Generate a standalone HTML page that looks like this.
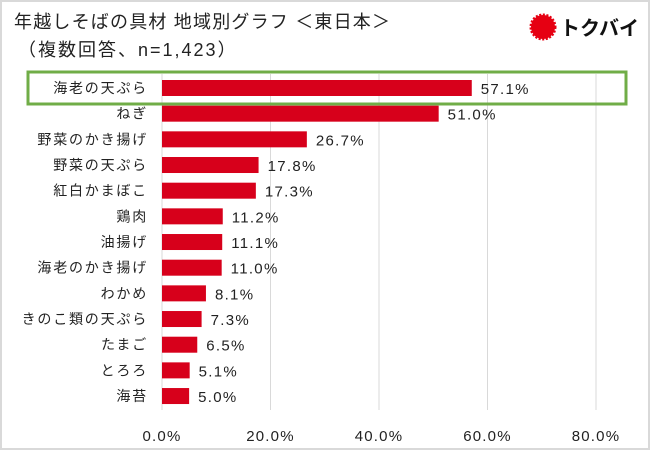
<!DOCTYPE html>
<html><head><meta charset="utf-8"><style>
html,body{margin:0;padding:0;background:#fff}
body{width:650px;height:450px;overflow:hidden;position:relative;font-family:"Liberation Sans","Noto Sans CJK JP",sans-serif}
</style></head><body>
<svg width="650" height="450" viewBox="0 0 650 450" style="position:absolute;left:0;top:0">
<rect x="1" y="1" width="648" height="448" fill="#fff" stroke="#d9d9d9" stroke-width="2"/>
<text x="14" y="28" font-size="18" letter-spacing="1.2" fill="#222">年越しそばの具材 地域別グラフ ＜東日本＞</text>
<text x="18" y="56" font-size="18" letter-spacing="2" fill="#222">（複数回答、n=1,423）</text>
<g>
<circle cx="543" cy="27" r="12" fill="#e60012" stroke="#e60012" stroke-width="3" stroke-dasharray="2 1.5"/>
<text x="560" y="35" font-size="20" font-weight="bold" fill="#111">トクバイ</text>
</g>
<g id="grid"></g>
<rect x="28" y="72" width="598" height="32" fill="none" stroke="#70ad47" stroke-width="3"/>
<g id="bars"></g>
<g id="xlabels"></g>
</svg>
<script>
const categories=["海老の天ぷら","ねぎ","野菜のかき揚げ","野菜の天ぷら","紅白かまぼこ","鶏肉","油揚げ","海老のかき揚げ","わかめ","きのこ類の天ぷら","たまご","とろろ","海苔"];
const values=[57.1,51.0,26.7,17.8,17.3,11.2,11.1,11.0,8.1,7.3,6.5,5.1,5.0];
const ticks=[0,20,40,60,80];
const tickLabels=["0.0%","20.0%","40.0%","60.0%","80.0%"];
const NS="http://www.w3.org/2000/svg";
const x=v=>162+v*(596-162)/80;
const y=i=>88+i*25.67;
function mk(tag,attrs,parent,txt){const e=document.createElementNS(NS,tag);for(const k in attrs)e.setAttribute(k,attrs[k]);if(txt!==undefined)e.textContent=txt;parent.appendChild(e);return e;}
const grid=document.getElementById('grid'),bars=document.getElementById('bars'),xl=document.getElementById('xlabels');
ticks.forEach((t,i)=>{
 const l=mk('line',{x1:x(t),x2:x(t),y1:74,y2:410,stroke:'#d9d9d9','stroke-width':1},grid);
 
 
 const tx=mk('text',{x:x(t),y:441,'font-size':15,'letter-spacing':1.2,'text-anchor':'middle',fill:'#222'},xl,tickLabels[i]);
 
 
});
categories.forEach((c,i)=>{
 const lb=mk('text',{x:148,y:y(i)+5,'font-size':14,'letter-spacing':1.8,'text-anchor':'end',fill:'#222'},bars,c);
 
 
 const r=mk('rect',{x:x(0),y:y(i)-8,width:x(values[i])-x(0),height:16,fill:'#d7001b'},bars);
 
 
 const v=mk('text',{x:x(values[i])+9,y:y(i)+6,'font-size':15,'letter-spacing':1.3,fill:'#222'},bars,values[i].toFixed(1)+'%');
 
 
});
</script>
</body></html>
